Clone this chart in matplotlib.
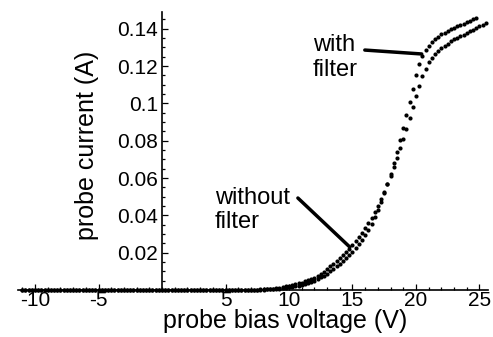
import numpy as np
import matplotlib
matplotlib.use("Agg")
import matplotlib.pyplot as plt
from matplotlib.ticker import FixedLocator, MultipleLocator

plt.rcParams['font.family'] = ['Liberation Sans', 'DejaVu Sans']
plt.rcParams['axes.unicode_minus'] = False

# probe bias voltage (V), 0.25 V steps
bias_v = [-11.0, -10.75, -10.5, -10.25, -10.0, -9.75, -9.5, -9.25, -9.0, -8.75,
          -8.5, -8.25, -8.0, -7.75, -7.5, -7.25, -7.0, -6.75, -6.5, -6.25,
          -6.0, -5.75, -5.5, -5.25, -5.0, -4.75, -4.5, -4.25, -4.0, -3.75,
          -3.5, -3.25, -3.0, -2.75, -2.5, -2.25, -2.0, -1.75, -1.5, -1.25,
          -1.0, -0.75, -0.5, -0.25, 0.0, 0.25, 0.5, 0.75, 1.0, 1.25,
          1.5, 1.75, 2.0, 2.25, 2.5, 2.75, 3.0, 3.25, 3.5, 3.75,
          4.0, 4.25, 4.5, 4.75, 5.0, 5.25, 5.5, 5.75, 6.0, 6.25,
          6.5, 6.75, 7.0, 7.25, 7.5, 7.75, 8.0, 8.25, 8.5, 8.75,
          9.0, 9.25, 9.5, 9.75, 10.0, 10.25, 10.5, 10.75, 11.0, 11.25,
          11.5, 11.75, 12.0, 12.25, 12.5, 12.75, 13.0, 13.25, 13.5, 13.75,
          14.0, 14.25, 14.5, 14.75, 15.0, 15.25, 15.5, 15.75, 16.0, 16.25,
          16.5, 16.75, 17.0, 17.25, 17.5, 17.75, 18.0, 18.25, 18.5, 18.75,
          19.0, 19.25, 19.5, 19.75, 20.0, 20.25, 20.5, 20.75, 21.0, 21.25,
          21.5, 21.75, 22.0, 22.25, 22.5, 22.75, 23.0, 23.25, 23.5, 23.75,
          24.0, 24.25, 24.5, 24.75, 25.0, 25.25, 25.5]

# probe current (A) without filter, -11 V .. 25.5 V
i_without = [0.0, 0.0, 0.0, 0.0, 0.0, 0.0, 0.0, 0.0, 0.0, 0.0,
             0.0, 0.0, 0.0, 0.0, 0.0, 0.0, 0.0, 0.0, 0.0, 0.0,
             0.0, 0.0, 0.0, 0.0, 0.0, 0.0, 0.0, 0.0, 0.0, 0.0,
             0.0, 0.0, 0.0, 0.0, 0.0, 0.0, 0.0, 0.0, 0.0, 0.0,
             0.0, 0.0, 0.0, 0.0, 0.0, 0.0, 0.0, 0.0, 0.0, 0.0,
             0.0, 0.0, 0.0, 0.0, 0.0, 0.0, 0.0, 0.0, 0.0, 0.0,
             0.0, 0.0, 0.0, 0.0, 0.0, 0.0, 0.0, 0.0, 0.0, 0.0,
             0.0, 0.0, 0.0, 0.0001, 0.0002, 0.0003, 0.0004, 0.0005, 0.0007, 0.0008,
             0.0010, 0.0013, 0.0016, 0.0019, 0.0022, 0.0026, 0.0030, 0.0035, 0.0040, 0.0046,
             0.0052, 0.0059, 0.0066, 0.0076, 0.0087, 0.0099, 0.0112, 0.0126, 0.0140, 0.0155,
             0.0170, 0.0186, 0.0203, 0.0221, 0.0240, 0.0261, 0.0283, 0.0306, 0.0330, 0.0358,
             0.0387, 0.0418, 0.0450, 0.0487, 0.0526, 0.0567, 0.0610, 0.0658, 0.0708, 0.0759,
             0.0810, 0.0864, 0.0920, 0.0980, 0.1040, 0.1095, 0.1145, 0.1186, 0.1220, 0.1245,
             0.1265, 0.1281, 0.1295, 0.1308, 0.1320, 0.1332, 0.1343, 0.1352, 0.1360, 0.1369,
             0.1378, 0.1386, 0.1395, 0.1404, 0.1413, 0.1422, 0.1432]

# probe current (A) with filter, -11 V .. 24.75 V
i_with = [0.0, 0.0, 0.0, 0.0, 0.0, 0.0, 0.0, 0.0, 0.0, 0.0,
          0.0, 0.0, 0.0, 0.0, 0.0, 0.0, 0.0, 0.0, 0.0, 0.0,
          0.0, 0.0, 0.0, 0.0, 0.0, 0.0, 0.0, 0.0, 0.0, 0.0,
          0.0, 0.0, 0.0, 0.0, 0.0, 0.0, 0.0, 0.0, 0.0, 0.0,
          0.0, 0.0, 0.0, 0.0, 0.0, 0.0, 0.0, 0.0, 0.0, 0.0,
          0.0, 0.0, 0.0, 0.0, 0.0, 0.0, 0.0, 0.0, 0.0, 0.0,
          0.0, 0.0, 0.0, 0.0, 0.0, 0.0, 0.0, 0.0, 0.0, 0.0,
          0.0, 0.0, 0.0, 0.0, 0.0, 0.0001, 0.0002, 0.0003, 0.0004, 0.0005,
          0.0006, 0.0008, 0.0010, 0.0012, 0.0014, 0.0017, 0.0020, 0.0024, 0.0028, 0.0033,
          0.0038, 0.0044, 0.0050, 0.0058, 0.0067, 0.0077, 0.0088, 0.0100, 0.0113, 0.0127,
          0.0142, 0.0157, 0.0172, 0.0188, 0.0205, 0.0225, 0.0246, 0.0270, 0.0295, 0.0324,
          0.0355, 0.0391, 0.0430, 0.0474, 0.0521, 0.0570, 0.0620, 0.0680, 0.0742, 0.0806,
          0.0870, 0.0937, 0.1005, 0.1078, 0.1150, 0.1210, 0.1255, 0.1285, 0.1310, 0.1328,
          0.1345, 0.1358, 0.1370, 0.1380, 0.1390, 0.1398, 0.1405, 0.1413, 0.1420, 0.1428,
          0.1435, 0.1443, 0.1450, 0.1460]

x_ticks = [-10, -5, 5, 10, 15, 20, 25]
y_ticks = [0.02, 0.04, 0.06, 0.08, 0.1, 0.12, 0.14]
y_tick_labels = ['0.02', '0.04', '0.06', '0.08', '0.1', '0.12', '0.14']

fig = plt.figure(figsize=(4.93, 3.37), dpi=100)
ax = fig.add_axes([18 / 493, 47 / 337, 470 / 493, 278 / 337])

ax.plot(bias_v, i_without, 'o', ms=3.0, color='k', mec='none', clip_on=False)
ax.plot(bias_v[:len(i_with)], i_with, 'o', ms=3.0, color='k', mec='none', clip_on=False)

ax.set_xlim(-11.34, 25.67)
ax.set_ylim(0, 0.149)

ax.spines['left'].set_position(('data', 0))
ax.spines['bottom'].set_position(('data', 0))
ax.spines['top'].set_visible(False)
ax.spines['right'].set_visible(False)
for s in ('left', 'bottom'):
    ax.spines[s].set_linewidth(1.2)

ax.xaxis.set_major_locator(FixedLocator(x_ticks))
ax.xaxis.set_minor_locator(MultipleLocator(1))
ax.yaxis.set_major_locator(FixedLocator(y_ticks))
ax.set_yticklabels(y_tick_labels)
ax.yaxis.set_minor_locator(MultipleLocator(0.005))
ax.tick_params(which='both', direction='in', width=0.9, labelsize=15)
ax.tick_params(which='major', length=4)
ax.tick_params(which='minor', length=2.5)
ax.tick_params(axis='x', pad=1)
ax.tick_params(axis='y', pad=3)

ax.set_xlabel('probe bias voltage (V)', fontsize=18)
ax.xaxis.set_label_coords(0.568, -0.068)
ax.set_ylabel('probe current (A)', fontsize=18)
ax.yaxis.set_label_coords(0.172, 0.52)

ax.text(11.88, 0.1246, 'with\nfilter', fontsize=17, ha='left', va='center', linespacing=1.15)
ax.annotate('', xy=(20.45, 0.1265), xytext=(15.97, 0.1286),
            arrowprops=dict(arrowstyle='-', lw=2.5, color='k', shrinkA=0, shrinkB=0))
ax.text(4.17, 0.0429, 'without\nfilter', fontsize=17, ha='left', va='center', linespacing=1.15)
ax.annotate('', xy=(14.79, 0.0230), xytext=(10.7, 0.0493),
            arrowprops=dict(arrowstyle='-', lw=2.5, color='k', shrinkA=0, shrinkB=0))

fig.savefig('out.png', dpi=100)
